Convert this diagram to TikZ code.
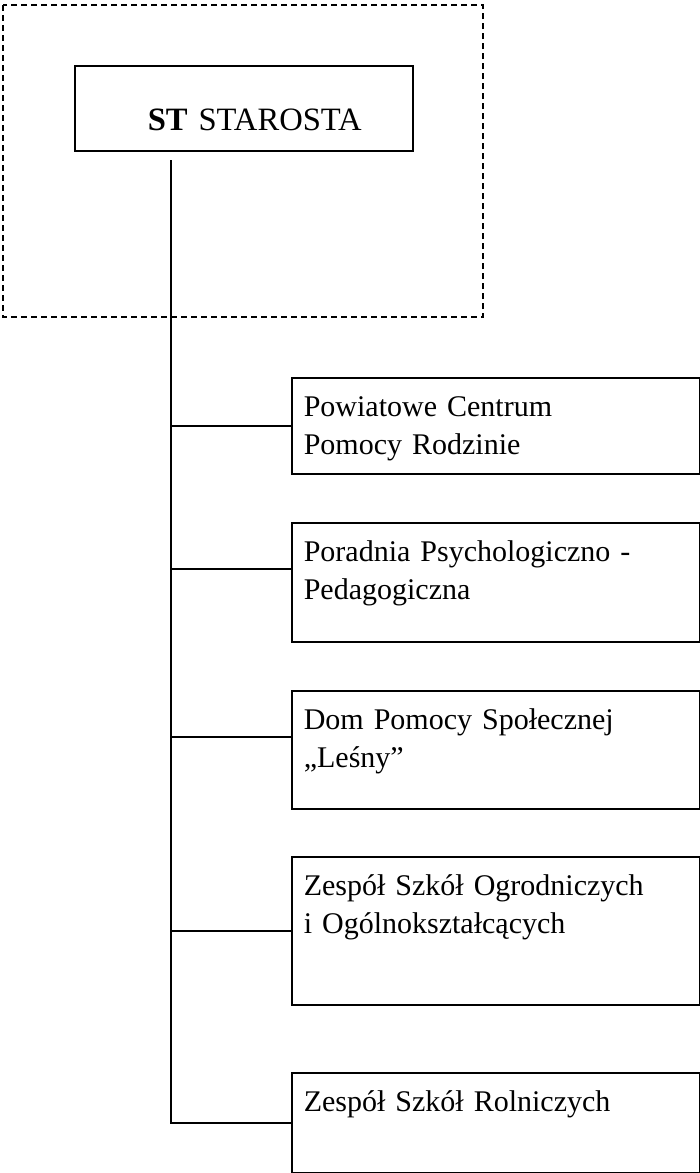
\documentclass[tikz,border=0pt]{standalone}
\usepackage{fontspec}
\setmainfont{Liberation Serif}
\tikzset{
  unit/.style={draw, line width=0.8pt, anchor=north west, inner xsep=6pt, inner ysep=0pt,
    text width=192pt, align=left, text height=19.5pt,
    font=\fontsize{15}{19}\selectfont},
  head/.style={draw, line width=0.8pt, anchor=north west, inner sep=0pt,
    text width=169pt, align=left, text height=32.5pt, text depth=10pt,
    font=\fontsize{16.3}{19}\selectfont},
  link/.style={line width=0.8pt}
}
\begin{document}
\begin{tikzpicture}[x=0.5pt,y=-0.5pt]
\useasboundingbox (0,0) rectangle (700,1173);
\draw[line width=0.9pt, dash pattern=on 3pt off 2pt] (3,5) rectangle (483,317);
\node[head] (st) at (74,65) {\hspace*{36.5pt}\textbf{ST} STAROSTA};
\node[unit, text depth=28.5pt] (pcpr) at (291,377) {Powiatowe Centrum\\Pomocy Rodzinie};
\node[unit, text depth=40pt] (ppp) at (291,522) {Poradnia Psychologiczno -\\Pedagogiczna};
\node[unit, text depth=39.5pt] (dps) at (291,690) {Dom Pomocy Społecznej\\„Leśny”};
\node[unit, text depth=54.5pt] (zso) at (291,856) {Zespół Szkół Ogrodniczych\\i Ogólnokształcących};
\node[unit, text depth=30.5pt] (zsr) at (291,1072) {Zespół Szkół Rolniczych};
\coordinate (top) at (171,160);
\draw[link] (top) |- (zsr.west);
\draw[link] (top |- pcpr.west) -- (pcpr.west);
\draw[link] (top |- 0,569) -- (ppp.west |- 0,569);
\draw[link] (top |- 0,737) -- (dps.west |- 0,737);
\draw[link] (top |- zso.west) -- (zso.west);
\end{tikzpicture}
\end{document}
